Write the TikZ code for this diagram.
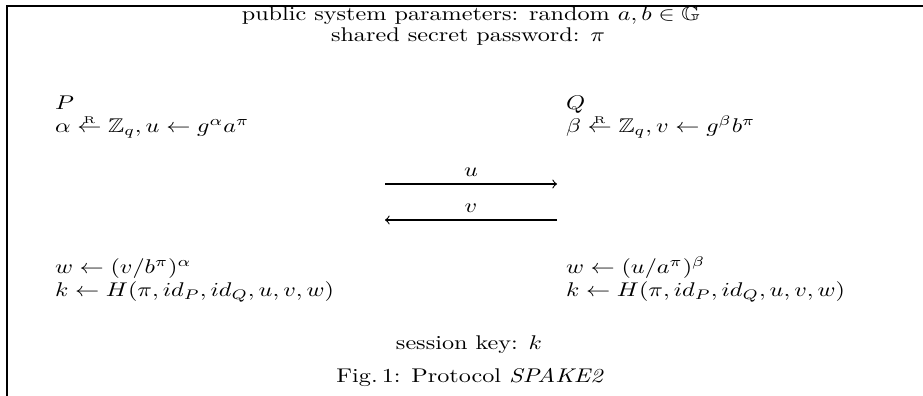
\documentclass[tikz,border=0pt]{standalone}
\usepackage{graphicx}
\usepackage{amsmath,amssymb}
\newcommand{\sqz}[1]{\scalebox{1}[0.82]{#1}}
\newcommand{\rnd}{\mathrel{\smash[t]{\overset{\raisebox{-0.9pt}{$\scriptscriptstyle\mathrm{R}$}}{\leftarrow}}}}
\begin{document}
\begin{tikzpicture}[x=0.4135pt,y=-0.4135pt,
  txt/.style={inner sep=0pt,outer sep=0pt,font=\normalsize},
  msg/.style={->,line width=0.45pt},
  frame/.style={line width=0.7pt}]
\useasboundingbox (0,0) rectangle (923,396);
\draw[frame] (923,6) -- (7,6) -- (7,396);
\node[txt,anchor=base] (pub) at (471,21) {\sqz{public system parameters: random $a,b\in\mathbb{G}$}};
\node[txt,anchor=base] (pw) at (468,42) {\sqz{shared secret password: $\pi$}};
\node[txt,anchor=base west] (P) at (55,110) {\sqz{$P$}};
\node[txt,anchor=base west] (Q) at (566,110) {\sqz{$Q$}};
\node[txt,anchor=base west] (p1) at (55,133) {\sqz{$\alpha \rnd \mathbb{Z}_q, u \leftarrow g^{\alpha}a^{\pi}$}};
\node[txt,anchor=base west] (q1) at (566,133) {\sqz{$\beta \rnd \mathbb{Z}_q, v \leftarrow g^{\beta}b^{\pi}$}};
\coordinate (uL) at (385,184);
\coordinate (uR) at (557,184);
\coordinate (vL) at (385,220);
\coordinate (vR) at (557,220);
\draw[msg] (uL) -- node[txt,anchor=base,above=3pt] (ulab) {\sqz{$u$}} (uR);
\draw[msg] (vR) -- node[txt,anchor=base,above=3pt] (vlab) {\sqz{$v$}} (vL);
\node[txt,anchor=base west] (p2) at (55,274) {\sqz{$w \leftarrow (v/b^{\pi})^{\alpha}$}};
\node[txt,anchor=base west] (p3) at (55,297) {\sqz{$k \leftarrow H(\pi, id_P, id_Q, u, v, w)$}};
\node[txt,anchor=base west] (q2) at (566,274) {\sqz{$w \leftarrow (u/a^{\pi})^{\beta}$}};
\node[txt,anchor=base west] (q3) at (566,297) {\sqz{$k \leftarrow H(\pi, id_P, id_Q, u, v, w)$}};
\node[txt,anchor=base] (sk) at (469,350) {\sqz{session key: $k$}};
\node[txt,anchor=base] (cap) at (470,382) {\sqz{Fig.\,1: Protocol \textit{SPAKE2}}};
\end{tikzpicture}
\end{document}
